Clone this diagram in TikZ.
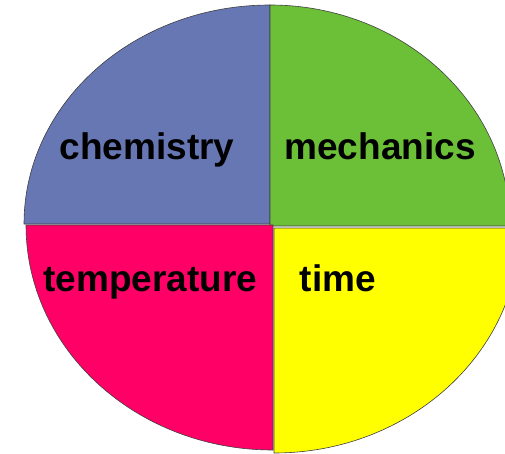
\documentclass[tikz,border=0pt]{standalone}
\usepackage{fontspec}
\setmainfont{Liberation Sans}
\usepackage{xcolor}
\usepackage{tikz}

\definecolor{chemblue}{RGB}{103,119,180}
\definecolor{mechgreen}{RGB}{107,192,56}
\definecolor{temppink}{RGB}{255,0,102}
\definecolor{timeyellow}{RGB}{255,255,0}

\begin{document}
\begin{tikzpicture}[x=1pt, y=1pt,
    quarter/.style={draw=black!75, line width=0.6pt},
    subject/.style={font=\fontsize{37}{44}\selectfont\bfseries, anchor=base, inner sep=0pt}]
\useasboundingbox (0,0) rectangle (505,453);
\clip (0,0) rectangle (505,453);

% top left
\filldraw[quarter, fill=chemblue] (270,229) -- (24,229)
    arc[start angle=180, end angle=90, x radius=246, y radius=219] -- cycle;
% top right
\filldraw[quarter, fill=mechgreen] (270,227) -- (270,448)
    arc[start angle=90, end angle=0, x radius=240, y radius=221] -- cycle;
% bottom left
\filldraw[quarter, fill=temppink] (273,228) -- (273,3)
    arc[start angle=270, end angle=180, x radius=247, y radius=225] -- cycle;
% bottom right
\filldraw[quarter, fill=timeyellow] (274,225) -- (520,225)
    arc[start angle=0, end angle=-90, x radius=246, y radius=225] -- cycle;

% subjects
\node[subject] (chem) at (147,293) {chemistry};
\node[subject] (mech) at (380,293) {mechanics};
\node[subject] (temp) at (150.5,162) {temperature};
\node[subject] (time) at (338,162) {time};
\end{tikzpicture}
\end{document}
